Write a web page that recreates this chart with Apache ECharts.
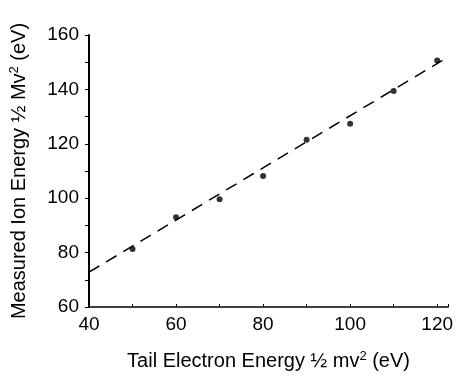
<!DOCTYPE html>
<html><head><meta charset="utf-8">
<script src="https://cdn.jsdelivr.net/npm/echarts@6/dist/echarts.min.js"></script>
<style>html,body{margin:0;padding:0;background:#fff}#c{width:456px;height:376px}</style>
</head><body><div id="c"></div>
<script>
var tailEnergy = [50, 60, 70, 80, 90, 100, 110, 120];
var ionEnergy = [81.3, 93.0, 99.6, 108.2, 121.5, 127.4, 139.4, 150.6];
var fitX = [40, 122.5];
var fitY = [72.8, 151.9];
var xTicks = [40, 60, 80, 100, 120];
var yTicks = [60, 80, 100, 120, 140, 160];

var chart = echarts.init(document.getElementById('c'), null, {renderer: 'canvas'});
var font = 'Liberation Sans, Arial, Helvetica, sans-serif';
chart.setOption({
  animation: false,
  grid: {left: 88, right: 4, top: 35, bottom: 69},
  xAxis: {
    type: 'value', min: 40, max: 122.5, interval: 10,
    axisLine: {lineStyle: {color: '#000', width: 1.5}},
    axisTick: {inside: true, length: 3, lineStyle: {color: '#000'}},
    splitLine: {show: false},
    axisLabel: {
      color: '#000', fontFamily: font, fontSize: 19, margin: 8,
      customValues: xTicks
    },
    name: 'Tail Electron Energy ½ mv{s|2} (eV)',
    nameLocation: 'middle', nameGap: 43,
    nameTextStyle: {color: '#000', fontFamily: font, fontSize: 20,
      rich: {s: {fontSize: 13, verticalAlign: 'top', padding: [0,0,9,0], color: '#000', fontFamily: font}}}
  },
  yAxis: {
    type: 'value', min: 60, max: 160, interval: 10,
    axisLine: {lineStyle: {color: '#000', width: 2}},
    axisTick: {inside: false, length: 4, lineStyle: {color: '#000'}},
    splitLine: {show: false},
    axisLabel: {
      color: '#000', fontFamily: font, fontSize: 19, margin: 10,
      customValues: yTicks
    },
    name: 'Measured Ion Energy ½ Mv{s|2} (eV)',
    nameLocation: 'middle', nameGap: 59,
    nameTextStyle: {color: '#000', fontFamily: font, fontSize: 20,
      rich: {s: {fontSize: 13, verticalAlign: 'top', padding: [0,0,9,0], color: '#000', fontFamily: font}}}
  },
  series: [
    {
      type: 'line', data: fitX.map(function(x, i){return [x, fitY[i]];}),
      symbol: 'none', lineStyle: {color: '#000', width: 1.5, type: [12, 8]}
    },
    {
      type: 'scatter', data: tailEnergy.map(function(x, i){return [x, ionEnergy[i]];}),
      symbol: 'circle', symbolSize: 6, itemStyle: {color: '#000'}
    }
  ]
});
</script></body></html>
